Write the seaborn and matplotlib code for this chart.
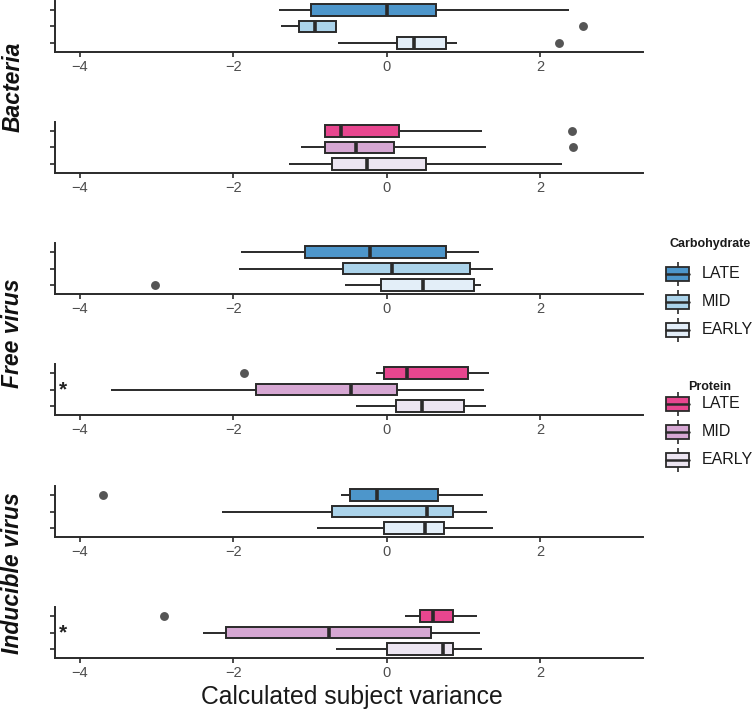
import numpy as np
import pandas as pd
import matplotlib
matplotlib.use("Agg")
import matplotlib.pyplot as plt
from matplotlib.patches import Rectangle
import seaborn as sns

# ---------------- data (five-number summaries) ----------------
stages = ["LATE", "MID", "EARLY"]
facets = ["Bacteria", "Free virus", "Inducible virus"]
diets = ["Carbohydrate", "Protein"]

# each list: [lower whisker, Q1, median, Q3, upper whisker]
bacteria_carb_late = [-1.40, -0.99, 0.01, 0.64, 2.37]
bacteria_carb_mid = [-1.37, -1.14, -0.93, -0.66, -0.66]
bacteria_carb_early = [-0.63, 0.14, 0.36, 0.77, 0.92]
bacteria_carb_outliers = [("MID", 2.56), ("EARLY", 2.25)]

bacteria_prot_late = [-0.81, -0.80, -0.59, 0.16, 1.24]
bacteria_prot_mid = [-1.12, -0.80, -0.40, 0.10, 1.30]
bacteria_prot_early = [-1.27, -0.71, -0.25, 0.51, 2.29]
bacteria_prot_outliers = [("LATE", 2.41), ("MID", 2.43)]

free_carb_late = [-1.90, -1.06, -0.22, 0.77, 1.20]
free_carb_mid = [-1.92, -0.57, 0.07, 1.08, 1.38]
free_carb_early = [-0.54, -0.07, 0.48, 1.14, 1.23]
free_carb_outliers = [("EARLY", -3.02)]

free_prot_late = [-0.14, -0.03, 0.26, 1.06, 1.33]
free_prot_mid = [-3.59, -1.70, -0.47, 0.14, 1.27]
free_prot_early = [-0.40, 0.12, 0.46, 1.01, 1.29]
free_prot_outliers = [("LATE", -1.86)]

induc_carb_late = [-0.59, -0.48, -0.12, 0.67, 1.25]
induc_carb_mid = [-2.14, -0.71, 0.52, 0.86, 1.31]
induc_carb_early = [-0.91, -0.03, 0.50, 0.75, 1.38]
induc_carb_outliers = [("LATE", -3.70)]

induc_prot_late = [0.24, 0.43, 0.60, 0.87, 1.18]
induc_prot_mid = [-2.39, -2.09, -0.75, 0.58, 1.22]
induc_prot_early = [-0.66, 0.01, 0.74, 0.87, 1.24]
induc_prot_outliers = [("LATE", -2.90)]

significant = [False, False, False, True, False, True]  # asterisk on MID row
x_ticks = [-4, -2, 0, 2]
x_label = "Calculated subject variance"

carb_colors = {"LATE": "#4d96cb", "MID": "#abd3ea", "EARLY": "#e3eef8"}
prot_colors = {"LATE": "#e8468f", "MID": "#d6a7d3", "EARLY": "#ece5f1"}

panels = [
    (bacteria_carb_late, bacteria_carb_mid, bacteria_carb_early, bacteria_carb_outliers, carb_colors),
    (bacteria_prot_late, bacteria_prot_mid, bacteria_prot_early, bacteria_prot_outliers, prot_colors),
    (free_carb_late, free_carb_mid, free_carb_early, free_carb_outliers, carb_colors),
    (free_prot_late, free_prot_mid, free_prot_early, free_prot_outliers, prot_colors),
    (induc_carb_late, induc_carb_mid, induc_carb_early, induc_carb_outliers, carb_colors),
    (induc_prot_late, induc_prot_mid, induc_prot_early, induc_prot_outliers, prot_colors),
]

# ---------------- styling ----------------
sns.set_style("ticks")
plt.rcParams["font.family"] = ["Liberation Sans", "DejaVu Sans"]

W, H = 756, 714
fig = plt.figure(figsize=(W / 100, H / 100), dpi=100)

ax_left, ax_right = 55, 643
bottoms = [52, 173, 294, 415, 537, 658]
ph = 51
edge = "#2a2a2a"

axes = []
for i, (late, mid, early, outl, pal) in enumerate(panels):
    b = bottoms[i]
    ax = fig.add_axes([ax_left / W, 1 - b / H, (ax_right - ax_left) / W, ph / H])
    axes.append(ax)
    df = pd.DataFrame({
        "stage": ["LATE"] * 5 + ["MID"] * 5 + ["EARLY"] * 5,
        "value": late + mid + early,
    })
    sns.boxplot(data=df, x="value", y="stage", hue="stage", order=stages,
                hue_order=stages, palette=pal, saturation=1, whis=(0, 100),
                width=0.72, linewidth=1.4, linecolor=edge, fliersize=0,
                legend=False, dodge=False, ax=ax,
                medianprops={"linewidth": 2.6, "color": edge},
                whiskerprops={"linewidth": 1.4, "color": edge},
                capprops={"linewidth": 0})
    if outl:
        odf = pd.DataFrame(outl, columns=["stage", "value"])
        sns.stripplot(data=odf, x="value", y="stage", order=stages, jitter=False,
                      color="#555555", size=6.4, linewidth=0, ax=ax, zorder=5)
    ax.set_xlim(-4.32, 3.34)
    ax.set_ylim(2.55, -0.55)
    ax.set_yticks([0, 1, 2])
    ax.set_yticklabels([])
    ax.set_xticks(x_ticks)
    ax.set_xticklabels([f"\u2212{abs(t)}" if t < 0 else str(t) for t in x_ticks])
    ax.set_xlabel("")
    ax.set_ylabel("")
    ax.tick_params(axis="x", labelsize=10.5, labelcolor="#4d4d4d", length=3.5,
                   width=1.2, color=edge, pad=2)
    ax.tick_params(axis="y", length=3.5, width=1.2, color=edge)
    for s in ["top", "right"]:
        ax.spines[s].set_visible(False)
    for s in ["left", "bottom"]:
        ax.spines[s].set_linewidth(1.4)
        ax.spines[s].set_color(edge)
    if significant[i]:
        ax.text(-4.27, 1.05, "*", ha="left", va="center", fontsize=15,
                fontweight="bold", color="#222222")

# facet labels
facet_centers = [87, 333, 573]
for name, yc in zip(facets, facet_centers):
    fig.text(13 / W, 1 - yc / H, name, rotation=90, ha="center", va="center",
             fontsize=16.5, fontweight="bold", fontstyle="italic", color="#111111")

# x label
fig.text(352 / W, 1 - 697 / H, x_label, ha="center", va="center", fontsize=17.8,
         color="#1a1a1a")

# ---------------- legends ----------------
lg = fig.add_axes([0, 0, 1, 1], facecolor="none")
lg.set_xlim(0, W)
lg.set_ylim(H, 0)
lg.axis("off")

def legend_block(title, ty, entry_ys, colors):
    lg.text(710, ty, title, ha="center", va="center", fontsize=9,
            fontweight="bold", color="#1a1a1a")
    for st, yy in zip(stages, entry_ys):
        x0, x1 = 666, 689
        xc = (x0 + x1) / 2
        lg.plot([xc, xc], [yy - 12, yy + 12], color=edge, lw=1.2, solid_capstyle="butt")
        lg.add_patch(Rectangle((x0, yy - 7), x1 - x0, 14, facecolor=colors[st],
                               edgecolor=edge, lw=1.3, zorder=3))
        lg.plot([x0, x1], [yy, yy], color=edge, lw=1.8, zorder=4)
        lg.text(702, yy, st, ha="left", va="center", fontsize=11.5, color="#1a1a1a")

legend_block("Carbohydrate", 244, [274, 302, 330], carb_colors)
legend_block("Protein", 387, [404, 432, 460], prot_colors)

fig.savefig("out.png", dpi=100)
